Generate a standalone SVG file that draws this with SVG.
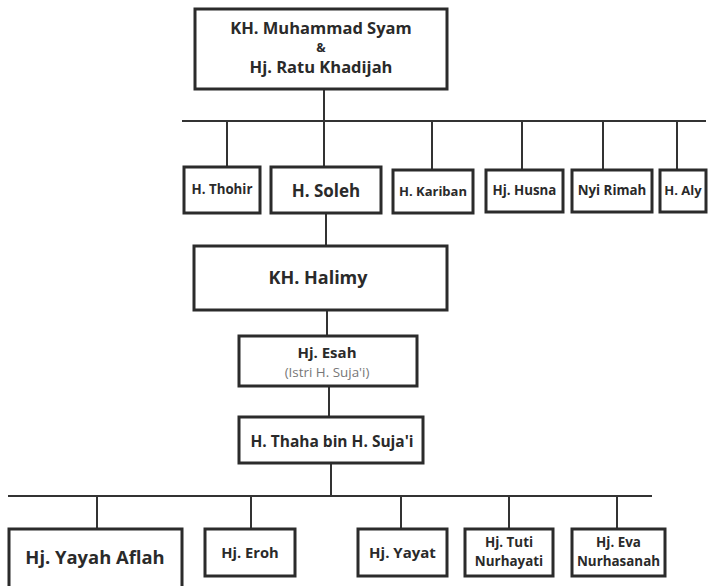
<svg xmlns="http://www.w3.org/2000/svg" width="710" height="586" viewBox="0 0 710 586">
<style>
.box{fill:#fff;stroke:#2b2b2b;stroke-width:3}
.ln{stroke:#333;stroke-width:2;fill:none}
text{font-family:"Open Sans","DejaVu Sans",sans-serif;font-weight:700;fill:#2a2a2a;text-anchor:middle}
.sub{font-weight:400;fill:#777}
</style>
<rect width="710" height="586" fill="#fff"/>
<g id="connectors">
<path class="ln" d="M324 88V167M182 121H706M227 121V167M432 121V170M522 121V170M603 121V170M677 121V170"/>
<path class="ln" d="M326 213V246M327 310V336M329 386V417M331 463V496"/>
<path class="ln" d="M8 496H652M97 496V529M251 496V529M401 496V529M509 496V529M617 496V529"/>
</g>
<g id="n-syam"><rect class="box" x="195" y="9" width="252" height="80"/>
<text x="321" y="34" font-size="16.5">KH. Muhammad Syam</text>
<text x="321" y="52" font-size="12.5">&amp;</text>
<text x="321" y="73" font-size="16.5">Hj. Ratu Khadijah</text></g>
<g id="n-thohir"><rect class="box" x="184" y="167" width="76" height="46"/><text x="222" y="194" font-size="13.3">H. Thohir</text></g>
<g id="n-soleh"><rect class="box" x="271" y="167" width="110" height="46"/><text x="326" y="197" font-size="17">H. Soleh</text></g>
<g id="n-kariban"><rect class="box" x="393" y="170" width="80" height="43"/><text x="433" y="196" font-size="13">H. Kariban</text></g>
<g id="n-husna"><rect class="box" x="486" y="170" width="77" height="42"/><text x="524.5" y="195" font-size="13.3">Hj. Husna</text></g>
<g id="n-rimah"><rect class="box" x="572" y="170" width="80" height="42"/><text x="612" y="195" font-size="13.3">Nyi Rimah</text></g>
<g id="n-aly"><rect class="box" x="660" y="170" width="46" height="42"/><text x="683" y="195" font-size="13">H. Aly</text></g>
<g id="n-halimy"><rect class="box" x="194" y="246" width="253" height="64"/><text x="318" y="284" font-size="18">KH. Halimy</text></g>
<g id="n-esah"><rect class="box" x="239" y="336" width="178" height="50"/>
<text x="327" y="358" font-size="15">Hj. Esah</text>
<text class="sub" x="327" y="377" font-size="13.4">(Istri H. Suja'i)</text></g>
<g id="n-thaha"><rect class="box" x="239" y="417" width="184" height="46"/><text x="332" y="447" font-size="15.5">H. Thaha bin H. Suja'i</text></g>
<g id="n-yayah"><rect class="box" x="9" y="529" width="173" height="62"/><text x="95" y="564" font-size="18.4">Hj. Yayah Aflah</text></g>
<g id="n-eroh"><rect class="box" x="205" y="529" width="90" height="47"/><text x="250" y="558" font-size="14.7">Hj. Eroh</text></g>
<g id="n-yayat"><rect class="box" x="358" y="529" width="89" height="47"/><text x="402.5" y="558" font-size="15">Hj. Yayat</text></g>
<g id="n-tuti"><rect class="box" x="465" y="529" width="88" height="47"/>
<text x="509" y="547" font-size="13.4">Hj. Tuti</text><text x="509" y="566" font-size="13.4">Nurhayati</text></g>
<g id="n-eva"><rect class="box" x="572" y="529" width="93" height="47"/>
<text x="618.5" y="547" font-size="13.4">Hj. Eva</text><text x="618.5" y="566" font-size="13.4">Nurhasanah</text></g>
</svg>
